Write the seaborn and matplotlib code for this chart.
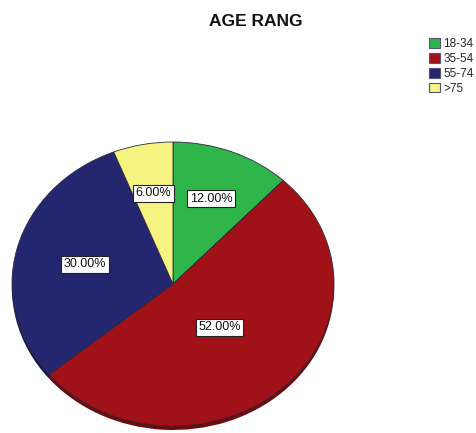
import numpy as np
import matplotlib
matplotlib.use("Agg")
import matplotlib.pyplot as plt
import seaborn as sns

# Age-range shares (percent)
age_groups = ["18-34", "35-54", "55-74", ">75"]
shares = [12.0, 52.0, 30.0, 6.0]
colors = ["#2fb54a", "#a11218", "#242670", "#f6f381"]
rim_colors = ["#1f7a32", "#6e0b0f", "#15174a", "#b5b25c"]
label_radius = [0.644, 0.42, 0.563, 0.652]

sns.set_theme(style="white")
plt.rcParams["font.family"] = ["Liberation Sans", "DejaVu Sans"]

W, H = 476, 433
fig = plt.figure(figsize=(W / 100, H / 100), dpi=100)
ax = fig.add_axes([0, 0, 1, 1])

# pixel geometry of the (slightly tilted) pie
cx, cy, rx, ry = 173, 284, 161, 142
depth = 4

# darker rim underneath to give the pie some thickness
ax.pie(shares, colors=rim_colors, startangle=90, counterclock=False,
       center=(0, -depth / ry), radius=1,
       wedgeprops=dict(linewidth=0))

wedges, _ = ax.pie(shares, colors=colors, startangle=90, counterclock=False,
                   radius=1,
                   wedgeprops=dict(linewidth=0.6, edgecolor="#2a2a40"))

for w, val, r in zip(wedges, shares, label_radius):
    mid = np.deg2rad((w.theta1 + w.theta2) / 2)
    ax.text(r * np.cos(mid), r * np.sin(mid), f"{val:.2f}%",
            ha="center", va="center", fontsize=9, color="#111111",
            bbox=dict(boxstyle="square,pad=0.2", facecolor="white",
                      edgecolor="#222222", linewidth=0.8), zorder=5)

ax.set_aspect("auto")
ax.set_xlim(-cx / rx, (W - cx) / rx)
ax.set_ylim(-(H - cy) / ry, cy / ry)
ax.axis("off")

fig.text(256 / W, 1 - 22 / H, "AGE RANG", ha="center", va="center",
         fontsize=12.5, fontweight="bold", color="#111111")

handles = [plt.Rectangle((0, 0), 1, 1, facecolor=c, edgecolor="#555577",
                         linewidth=0.8) for c in colors]
fig.legend(handles, age_groups, loc="upper left",
           bbox_to_anchor=(429 / W, 1 - 38 / H), frameon=False,
           fontsize=8.5, handlelength=0.9, handleheight=0.85,
           handletextpad=0.3, labelspacing=0.25, borderpad=0,
           borderaxespad=0)

fig.savefig("out.png", dpi=100)
